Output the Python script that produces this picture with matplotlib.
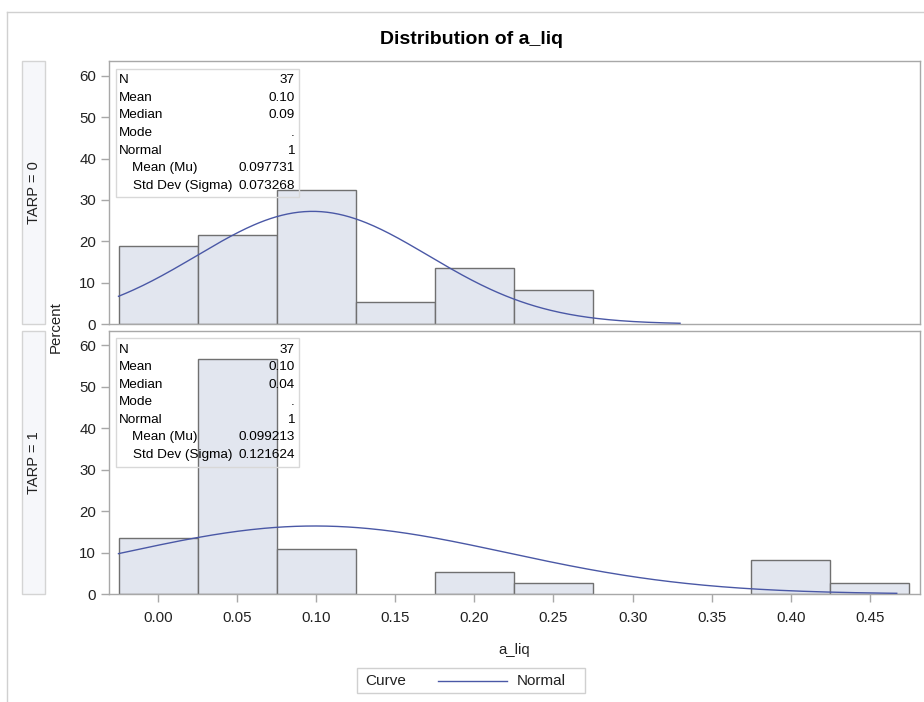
import numpy as np
import matplotlib
matplotlib.use("Agg")
import matplotlib.pyplot as plt
from matplotlib.patches import Rectangle
from matplotlib.lines import Line2D

plt.rcParams['font.family'] = ['Liberation Sans', 'DejaVu Sans']

W, H = 924, 702

# histogram bins (midpoints) and percent of obs in each bin
bin_mid = [0.00, 0.05, 0.10, 0.15, 0.20, 0.25, 0.30, 0.35, 0.40, 0.45]
pct_tarp0 = [18.92, 21.62, 32.43, 5.41, 13.51, 8.11, 0, 0, 0, 0]
pct_tarp1 = [13.51, 56.76, 10.81, 0, 5.41, 2.70, 0, 0, 8.11, 2.70]
bin_width = 0.05

# fitted normal parameters shown in the inset tables
mu0, sigma0 = 0.097731, 0.073268
mu1, sigma1 = 0.099213, 0.121624
curve_end0 = 0.33
curve_end1 = 0.467

stat_labels = ["N", "Mean", "Median", "Mode", "Normal", "Mean (Mu)", "Std Dev (Sigma)"]
stats_tarp0 = ["37", "0.10", "0.09", ".", "1", "0.097731", "0.073268"]
stats_tarp1 = ["37", "0.10", "0.04", ".", "1", "0.099213", "0.121624"]

xticks = [0.00, 0.05, 0.10, 0.15, 0.20, 0.25, 0.30, 0.35, 0.40, 0.45]
yticks = [0, 10, 20, 30, 40, 50, 60]

BAR_FILL = '#e2e6ef'
BAR_EDGE = '#707070'
CURVE = '#4a58a6'
FRAME = '#a8a8a8'
TXT = '#222222'


def fx(px):
    return px / W


def fy(py):
    return 1 - py / H


fig = plt.figure(figsize=(W / 100, H / 100), dpi=100)

# outer border of the SAS output
fig.add_artist(Line2D([fx(7), fx(7)], [fy(12), 0], color='#d0d0d0', lw=1))
fig.add_artist(Line2D([fx(7), 1], [fy(12), fy(12)], color='#d0d0d0', lw=1))

fig.text(fx(471), fy(40), "Distribution of a_liq", ha='center', va='center',
         fontsize=14, fontweight='bold', color='black')

panels = [
    (61.3, 324, pct_tarp0, mu0, sigma0, curve_end0, stats_tarp0, "TARP = 0"),
    (330.7, 594, pct_tarp1, mu1, sigma1, curve_end1, stats_tarp1, "TARP = 1"),
]

left_px, right_px = 108.7, 920
for i, (top, bot, pct, mu, sigma, cend, stats, strip) in enumerate(panels):
    ax = fig.add_axes([fx(left_px), fy(bot), fx(right_px - left_px), (bot - top) / H])

    mids = [m for m, p in zip(bin_mid, pct) if p > 0]
    hts = [p for p in pct if p > 0]
    ax.bar(mids, hts, width=bin_width, color=BAR_FILL, edgecolor=BAR_EDGE,
           linewidth=1, zorder=2)

    xs = np.linspace(-0.025, cend, 300)
    ys = 100 * bin_width * np.exp(-0.5 * ((xs - mu) / sigma) ** 2) / (sigma * np.sqrt(2 * np.pi))
    ax.plot(xs, ys, color=CURVE, lw=1.0, zorder=3)

    ax.set_xlim(-0.0312, 0.4817)
    ax.set_ylim(0, 63.5)
    ax.set_yticks(yticks)
    ax.tick_params(axis='y', direction='out', length=6, width=1, color=FRAME,
                   labelsize=10.8, labelcolor=TXT, pad=3)
    for s in ax.spines.values():
        s.set_color(FRAME)
        s.set_linewidth(1)

    if i == 0:
        ax.set_xticks([])
    else:
        ax.set_xticks(xticks)
        ax.set_xticklabels([f"{t:.2f}" for t in xticks])
        ax.tick_params(axis='x', direction='out', length=6, width=1, color=FRAME,
                       labelsize=10.8, labelcolor=TXT, pad=6)

    # strip label on the left
    fig.add_artist(Rectangle((fx(22), fy(bot)), fx(22.7), (bot - top) / H,
                             facecolor='#f6f7fa', edgecolor='#d4d4d4', lw=1))
    fig.text(fx(34), fy((top + bot) / 2), strip, rotation=90, ha='center',
             va='center', fontsize=10.5, color=TXT)

    # inset stats table
    box_top = top + 7.7
    fig.add_artist(Rectangle((fx(115.7), fy(box_top + 128.3)), fx(183.3), 128.3 / H,
                             facecolor='none', edgecolor='#d8d8d8', lw=1, zorder=5))
    for r, (lab, val) in enumerate(zip(stat_labels, stats)):
        yy = box_top + 11.3 + r * 17.55
        xl = 119.3 if r < 5 else (132.3 if r == 5 else 133.3)
        fig.text(fx(xl), fy(yy), lab, ha='left', va='center', fontsize=9.7, color='black')
        fig.text(fx(295), fy(yy), val, ha='right', va='center', fontsize=9.7, color='black')

fig.text(fx(56), fy(327), "Percent", rotation=90, ha='center', va='center',
         fontsize=10.8, color=TXT)
fig.text(fx(514), fy(650), "a_liq", ha='center', va='center', fontsize=10.8, color=TXT)

# legend box at the bottom
fig.add_artist(Rectangle((fx(356.7), fy(693.3)), fx(228.3), 25.6 / H,
                         facecolor='white', edgecolor='#d0d0d0', lw=1))
fig.text(fx(365), fy(681), "Curve", ha='left', va='center', fontsize=11, color=TXT)
fig.add_artist(Line2D([fx(438), fx(506.7)], [fy(681), fy(681)], color=CURVE, lw=1.0))
fig.text(fx(516.7), fy(681), "Normal", ha='left', va='center', fontsize=11, color=TXT)

fig.savefig("out.png", dpi=100)
